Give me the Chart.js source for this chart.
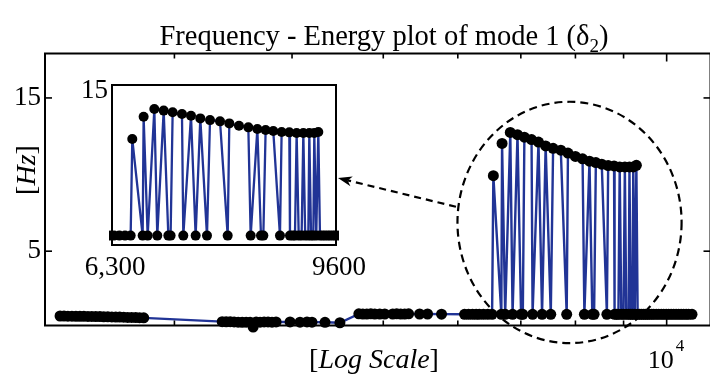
<!DOCTYPE html>
<html><head><meta charset="utf-8">
<script src="https://cdn.jsdelivr.net/npm/chart.js@4.4.1/dist/chart.umd.min.js"></script>
<style>
html,body{margin:0;padding:0;background:#fff;overflow:hidden;width:710px;height:379px;}
#main{position:absolute;left:0;top:0;}
#inset{position:absolute;left:70px;top:70px;}
</style></head><body>
<canvas id="main" width="716" height="379" style="width:716px;height:379px"></canvas>
<canvas id="inset" width="320" height="215" style="width:320px;height:215px"></canvas>
<script>
// ---------- data (energy on a log axis, frequency in Hz) ----------
const energy = [
  2268, 2290, 2312, 2335, 2358, 2381, 2404, 2428, 2451, 2475, 2500, 2524, 2549, 2574, 2599, 2624, 2650, 2676, 2702, 2729, 2755, 2783,
  3372, 3405, 3439, 3472, 3506, 3541, 3575, 3610, 3637, 3664, 3699, 3736, 3772, 3809, 3847, 3981, 4079, 4149, 4200, 4336, 4497,
  4710, 4756, 4803, 4850, 4897, 4957, 5018, 5117, 5167, 5218, 5269, 5320, 5465, 5572, 5766,
  6100, 6160, 6220, 6275, 6324, 6388, 6456, 6525,
  6545, 6674, 6686, 6737, 6822, 6860, 6943, 7004, 7034, 7061, 7186, 7204, 7309, 7373, 7438, 7532, 7575, 7719, 7831, 7855,
  7999, 8141, 8177, 8280, 8337, 8374, 8410, 8532, 8640, 8667, 8793, 8804, 8850, 8887, 8915, 8950, 8999, 9028, 9060, 9113,
  9130, 9160, 9199, 9216, 9250, 9286, 9315, 9360, 9403, 9450, 9492, 9540, 9582,
  9640, 9688, 9750, 9807, 9870, 9927, 9990, 10049, 10110, 10172, 10235, 10297, 10360, 10423, 10490, 10551, 10640
];
const freq = [
  0.77, 0.77, 0.76, 0.76, 0.75, 0.75, 0.75, 0.74, 0.74, 0.73, 0.73, 0.72, 0.72, 0.71, 0.70, 0.70, 0.69, 0.68, 0.68, 0.67, 0.66, 0.65,
  0.40, 0.39, 0.40, 0.38, 0.37, 0.36, 0.37, 0.37, 0.05, 0.38, 0.37, 0.38, 0.38, 0.37, 0.38, 0.38, 0.37, 0.38, 0.37, 0.36, 0.33,
  0.91, 0.90, 0.90, 0.91, 0.90, 0.90, 0.90, 0.90, 0.91, 0.90, 0.90, 0.91, 0.90, 0.90, 0.89,
  0.88, 0.88, 0.88, 0.88, 0.88, 0.88, 0.88, 0.88,
  9.93, 0.88, 12.03, 0.88, 12.75, 0.88, 12.60, 0.88, 0.88, 12.44, 12.28, 0.88, 12.12, 0.88, 11.87, 0.88, 11.71, 11.59, 0.88, 11.40,
  11.18, 11.03, 0.88, 10.87, 0.88, 0.88, 10.78, 10.68, 0.88, 10.59, 10.56, 0.88, 0.88, 0.88, 10.50, 0.88, 0.88, 10.50, 0.88, 0.88,
  10.50, 0.88, 0.88, 10.50, 0.88, 10.60, 0.88, 0.88, 0.88, 0.88, 0.88, 0.88, 0.88,
  0.88, 0.88, 0.88, 0.88, 0.88, 0.88, 0.88, 0.88, 0.88, 0.88, 0.88, 0.88, 0.88, 0.88, 0.88, 0.88, 0.88
];

// ---------- axes / ticks ----------
const xRangeMain = [2186, 11132];
const yRangeMain = [0.15, 17.9];
const xTicksMain = [3000, 4000, 5000, 6000, 7000, 8000, 9000, 10000];
const yTicksMain = [5, 15];
const xRangeInset = [6300, 9600];
const yRangeInset = [0, 15];
const xTicksInset = [6300, 9600];
const xTickLabelsInset = ['6,300', '9600'];
const yTicksInset = [15];

// annotation (zoom circle and arrow), in data units
const circleX = [5995, 10372];
const circleY = [-1.0, 14.75];
const arrowTail = [5973, 7.9];
const arrowTipInsetY = 6.28;

const titleMain = 'Frequency - Energy plot of mode 1 (δ';
const titleSub = '2';
const lineColor = 'rgb(33,52,150)';
const FONT = '"Liberation Serif", "DejaVu Serif", serif';

const points = energy.map((e, i) => ({ x: e, y: freq[i] }));

function seg(ctx, x1, y1, x2, y2) { ctx.beginPath(); ctx.moveTo(x1, y1); ctx.lineTo(x2, y2); ctx.stroke(); }

function drawMixed(ctx, parts, cx, baseY) {
  let total = 0;
  const ws = parts.map(p => { ctx.font = p[1]; const w = ctx.measureText(p[0]).width; total += w; return w; });
  let sx = cx - total / 2;
  ctx.textAlign = 'left';
  ctx.textBaseline = 'alphabetic';
  parts.forEach((p, i) => { ctx.font = p[1]; ctx.fillText(p[0], sx, baseY + (p[2] || 0)); sx += ws[i]; });
}

let insetChart = null;

const insetDeco = {
  id: 'insetDeco',
  afterDraw(chart) {
    const { ctx, chartArea: a, scales: { x, y } } = chart;
    ctx.save();
    ctx.strokeStyle = '#000'; ctx.lineWidth = 2; ctx.setLineDash([]);
    ctx.strokeRect(a.left, a.top, a.right - a.left, a.bottom - a.top);
    ctx.fillStyle = '#000';
    ctx.font = '27px ' + FONT;
    ctx.textAlign = 'right'; ctx.textBaseline = 'middle';
    yTicksInset.forEach(v => ctx.fillText(String(v), a.left - 4, y.getPixelForValue(v) + 6));
    ctx.textAlign = 'center';
    xTicksInset.forEach((v, i) => ctx.fillText(xTickLabelsInset[i], x.getPixelForValue(v) + 3, a.bottom + 23));
    ctx.restore();
  }
};

const mainDeco = {
  id: 'mainDeco',
  afterDraw(chart) {
    const { ctx, chartArea: a, scales: { x, y } } = chart;
    ctx.save();
    ctx.strokeStyle = '#000'; ctx.fillStyle = '#000'; ctx.setLineDash([]);
    ctx.lineWidth = 2;
    ctx.strokeRect(a.left, a.top, a.right - a.left, a.bottom - a.top);
    ctx.lineWidth = 1.6;
    xTicksMain.forEach(v => {
      const px = x.getPixelForValue(v);
      const len = v === 10000 ? 8 : 5;
      seg(ctx, px, a.bottom, px, a.bottom - len);
      seg(ctx, px, a.top, px, a.top + len);
    });
    yTicksMain.forEach(v => {
      const py = y.getPixelForValue(v);
      seg(ctx, a.left, py, a.left + 7, py);
      seg(ctx, a.right, py, a.right - 7, py);
    });
    // y tick labels
    ctx.font = '27px ' + FONT;
    ctx.textAlign = 'right'; ctx.textBaseline = 'middle';
    yTicksMain.forEach(v => ctx.fillText(String(v), a.left - 4, y.getPixelForValue(v)));
    // 10^4 label
    const p4 = x.getPixelForValue(10000);
    ctx.textBaseline = 'alphabetic';
    ctx.font = '26px ' + FONT; ctx.textAlign = 'right';
    ctx.fillText('10', p4 + 7, a.bottom + 42);
    ctx.font = '17px ' + FONT; ctx.textAlign = 'left';
    ctx.fillText('4', p4 + 9, a.bottom + 25);
    // title
    drawMixed(ctx, [[titleMain, '28.5px ' + FONT], [titleSub, '19px ' + FONT, 7], [')', '28.5px ' + FONT]], 384, 45);
    // x label
    drawMixed(ctx, [['[', '28px ' + FONT], ['Log Scale', 'italic 28px ' + FONT], [']', '28px ' + FONT]], 374, a.bottom + 42);
    // y label
    ctx.save();
    ctx.translate(35, 170);
    ctx.rotate(-Math.PI / 2);
    drawMixed(ctx, [['[', '28px ' + FONT], ['Hz', 'italic 28px ' + FONT], [']', '28px ' + FONT]], 0, 0);
    ctx.restore();
    // dashed circle
    const ex1 = x.getPixelForValue(circleX[0]), ex2 = x.getPixelForValue(circleX[1]);
    const ey1 = y.getPixelForValue(circleY[1]), ey2 = y.getPixelForValue(circleY[0]);
    ctx.lineWidth = 2.2; ctx.setLineDash([8, 5]);
    ctx.beginPath();
    ctx.ellipse((ex1 + ex2) / 2, (ey1 + ey2) / 2, (ex2 - ex1) / 2, (ey2 - ey1) / 2, 0, 0, Math.PI * 2);
    ctx.stroke();
    // arrow to inset
    if (insetChart) {
      const canvas = insetChart.canvas;
      const offX = canvas.offsetLeft, offY = canvas.offsetTop;
      const tx = insetChart.chartArea.right + offX + 2;
      const ty = insetChart.scales.y.getPixelForValue(arrowTipInsetY) + offY;
      const sx = x.getPixelForValue(arrowTail[0]);
      const sy = y.getPixelForValue(arrowTail[1]);
      const ang = Math.atan2(ty - sy, tx - sx);
      const L = 14, W = 5, N = 10;
      const bx = tx - Math.cos(ang) * N, by = ty - Math.sin(ang) * N;
      ctx.lineWidth = 2.2; ctx.setLineDash([7, 5]);
      seg(ctx, sx, sy, bx, by);
      ctx.setLineDash([]);
      const ux = Math.cos(ang), uy = Math.sin(ang);
      const px = -uy, py = ux;
      ctx.beginPath();
      ctx.moveTo(tx, ty);
      ctx.lineTo(tx - ux * L + px * W, ty - uy * L + py * W);
      ctx.lineTo(tx - ux * N, ty - uy * N);
      ctx.lineTo(tx - ux * L - px * W, ty - uy * L - py * W);
      ctx.closePath();
      ctx.fill();
    }
    ctx.restore();
  }
};

const hiddenAxis = (extra) => Object.assign({
  bounds: 'data',
  grid: { display: false, drawTicks: false },
  border: { display: false },
  ticks: { display: false }
}, extra);

insetChart = new Chart(document.getElementById('inset'), {
  type: 'scatter',
  data: { datasets: [{
    data: points, showLine: true, borderColor: lineColor, borderWidth: 2.3, tension: 0,
    pointRadius: 5, pointBackgroundColor: '#000', pointBorderColor: '#000', pointBorderWidth: 0,
    clip: { left: 3, right: 3, top: 6, bottom: 6 }
  }] },
  options: {
    responsive: false, animation: false, events: [], devicePixelRatio: 1,
    layout: { padding: { left: 0, top: 15, right: 54, bottom: 0 } },
    plugins: { legend: { display: false }, tooltip: { enabled: false }, title: { display: false } },
    scales: {
      x: hiddenAxis({ type: 'logarithmic', min: xRangeInset[0], max: xRangeInset[1], afterFit(s) { s.height = 40; } }),
      y: hiddenAxis({ type: 'linear', min: yRangeInset[0], max: yRangeInset[1], afterFit(s) { s.width = 42; } })
    }
  },
  plugins: [insetDeco]
});

new Chart(document.getElementById('main'), {
  type: 'scatter',
  data: { datasets: [{
    data: points, showLine: true, borderColor: lineColor, borderWidth: 2.4, tension: 0,
    pointRadius: 5.5, pointBackgroundColor: '#000', pointBorderColor: '#000', pointBorderWidth: 0,
    clip: false
  }] },
  options: {
    responsive: false, animation: false, events: [], devicePixelRatio: 1,
    layout: { padding: { left: 0, top: 53.5, right: 3, bottom: 0 } },
    plugins: { legend: { display: false }, tooltip: { enabled: false }, title: { display: false } },
    scales: {
      x: hiddenAxis({ type: 'logarithmic', min: xRangeMain[0], max: xRangeMain[1], afterFit(s) { s.height = 53.5; } }),
      y: hiddenAxis({ type: 'linear', min: yRangeMain[0], max: yRangeMain[1], afterFit(s) { s.width = 45; } })
    }
  },
  plugins: [mainDeco]
});
</script>
</body></html>
